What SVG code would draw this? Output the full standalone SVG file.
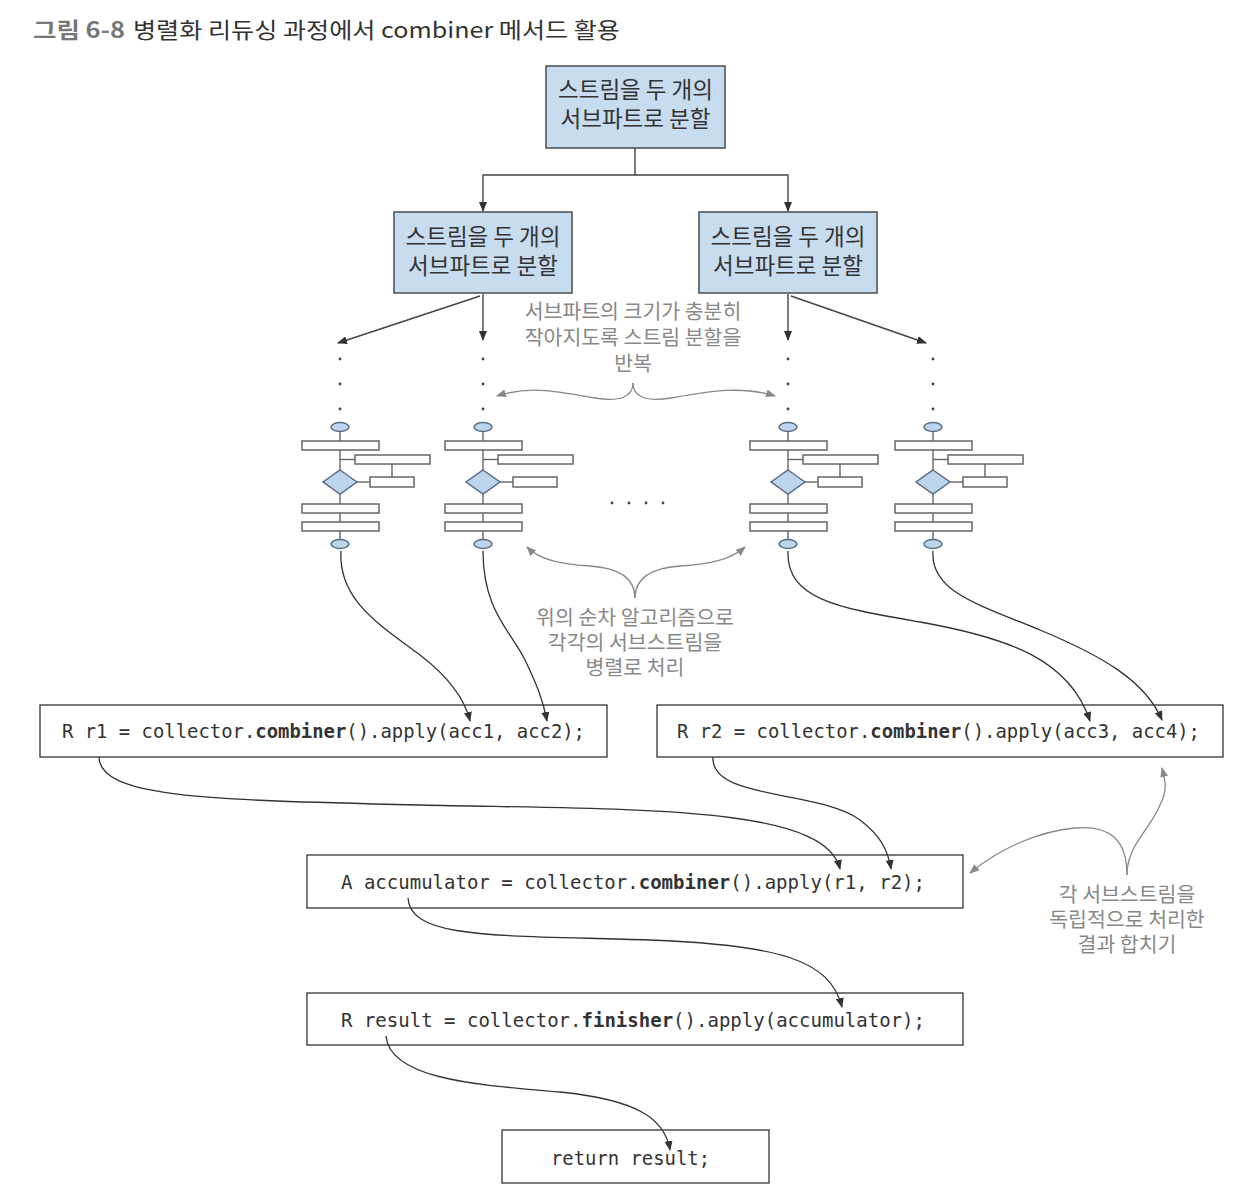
<svg xmlns="http://www.w3.org/2000/svg" width="1249" height="1198" viewBox="0 0 1249 1198">
<style>
.kr{font-family:"Noto Sans CJK KR","Noto Sans",sans-serif;}
.box{fill:#c8dcef;stroke:#555;stroke-width:1.6;}
.bt{font-size:22.5px;fill:#333;text-anchor:middle;}
.note{font-size:20.5px;fill:#888;text-anchor:middle;}
.code{font-family:"DejaVu Sans Mono","Liberation Mono",monospace;font-size:20px;fill:#333;}
.b{font-weight:bold;}
.cbox{fill:#fff;stroke:#333;stroke-width:1.3;}
.ln{fill:none;stroke:#444;stroke-width:1.4;}
.cv{fill:none;stroke:#333;stroke-width:1.3;}
.gv{fill:none;stroke:#888;stroke-width:1.3;}
.fr{fill:#fff;stroke:#666;stroke-width:1.5;}
.fb{fill:#bcd4ec;stroke:#5a6e84;stroke-width:1.5;}
.fl{stroke:#666;stroke-width:1.4;}
.dot{fill:#444;}
</style>
<defs>
<marker id="ah" markerWidth="10" markerHeight="8" refX="9" refY="4" orient="auto" markerUnits="userSpaceOnUse"><path d="M0,0 L10,4 L0,8 z" fill="#333"/></marker>
<marker id="ag" markerWidth="10" markerHeight="8" refX="9" refY="4" orient="auto" markerUnits="userSpaceOnUse"><path d="M0,0 L10,4 L0,8 z" fill="#888"/></marker>
<g id="flow">
<line class="fl" x1="0" y1="431" x2="0" y2="540"/>
<line class="fl" x1="0" y1="459.5" x2="15" y2="459.5"/>
<line class="fl" x1="17" y1="482" x2="30" y2="482"/>
<ellipse class="fb" cx="0" cy="427" rx="9" ry="4.5"/>
<rect class="fr" x="-38" y="441" width="77" height="9"/>
<rect class="fr" x="15" y="455" width="75" height="9"/>
<polygon class="fb" points="0,470 17,482 0,494 -17,482"/>
<rect class="fr" x="30" y="477" width="44" height="10"/>
<rect class="fr" x="-38" y="504" width="77" height="9"/>
<rect class="fr" x="-38" y="522" width="77" height="9"/>
<ellipse class="fb" cx="0" cy="544" rx="9" ry="4.5"/>
</g>
</defs>
<rect width="1249" height="1198" fill="#fff"/>

<text class="kr b" x="33" y="38" font-size="22" fill="#777" textLength="92" lengthAdjust="spacingAndGlyphs">그림 6-8</text>
<text class="kr" x="133" y="38" font-size="22" fill="#333" textLength="487" lengthAdjust="spacingAndGlyphs">병렬화 리듀싱 과정에서 combiner 메서드 활용</text>

<g id="split-top">
<rect class="box" x="546" y="66" width="179" height="82"/>
<text class="kr bt" x="635.5" y="98">스트림을 두 개의</text>
<text class="kr bt" x="635.5" y="127">서브파트로 분할</text>
</g>
<g id="split-left">
<rect class="box" x="394" y="212" width="178" height="81"/>
<text class="kr bt" x="483" y="245">스트림을 두 개의</text>
<text class="kr bt" x="483" y="274">서브파트로 분할</text>
</g>
<g id="split-right">
<rect class="box" x="699" y="212" width="178" height="81"/>
<text class="kr bt" x="788" y="245">스트림을 두 개의</text>
<text class="kr bt" x="788" y="274">서브파트로 분할</text>
</g>

<g id="dots">
<circle class="dot" cx="340" cy="359" r="1.4"/><circle class="dot" cx="340" cy="384" r="1.4"/><circle class="dot" cx="340" cy="409" r="1.4"/>
<circle class="dot" cx="483" cy="359" r="1.4"/><circle class="dot" cx="483" cy="384" r="1.4"/><circle class="dot" cx="483" cy="409" r="1.4"/>
<circle class="dot" cx="788" cy="359" r="1.4"/><circle class="dot" cx="788" cy="384" r="1.4"/><circle class="dot" cx="788" cy="409" r="1.4"/>
<circle class="dot" cx="933" cy="359" r="1.4"/><circle class="dot" cx="933" cy="384" r="1.4"/><circle class="dot" cx="933" cy="409" r="1.4"/>
<circle class="dot" cx="612" cy="503" r="1.4"/><circle class="dot" cx="629" cy="503" r="1.4"/><circle class="dot" cx="646" cy="503" r="1.4"/><circle class="dot" cx="663" cy="503" r="1.4"/>
</g>

<g id="seq1"><line class="fl" x1="392" y1="464" x2="392" y2="477"/><use href="#flow" x="340" y="0"/></g>
<g id="seq2"><use href="#flow" x="483" y="0"/></g>
<g id="seq3"><line class="fl" x1="840" y1="464" x2="840" y2="477"/><use href="#flow" x="788" y="0"/></g>
<g id="seq4"><line class="fl" x1="985" y1="464" x2="985" y2="477"/><use href="#flow" x="933" y="0"/></g>

<g id="note-repeat">
<text class="kr note" x="633" y="319">서브파트의 크기가 충분히</text>
<text class="kr note" x="633" y="345">작아지도록 스트림 분할을</text>
<text class="kr note" x="633" y="371">반복</text>
</g>
<g id="note-sequential">
<text class="kr note" x="635" y="625">위의 순차 알고리즘으로</text>
<text class="kr note" x="635" y="650">각각의 서브스트림을</text>
<text class="kr note" x="635" y="675">병렬로 처리</text>
</g>
<g id="note-merge">
<text class="kr note" x="1127" y="902">각 서브스트림을</text>
<text class="kr note" x="1127" y="927">독립적으로 처리한</text>
<text class="kr note" x="1127" y="952">결과 합치기</text>
</g>

<g id="code-r1">
<rect class="cbox" x="40" y="705" width="567" height="52"/>
<text class="code" x="62" y="738" textLength="193.3" lengthAdjust="spacingAndGlyphs">R r1 = collector.</text>
<text class="code b" x="255.3" y="738" textLength="91" lengthAdjust="spacingAndGlyphs">combiner</text>
<text class="code" x="346.3" y="738" textLength="238.7" lengthAdjust="spacingAndGlyphs">().apply(acc1, acc2);</text>
</g>
<g id="code-r2">
<rect class="cbox" x="657" y="705" width="566" height="52"/>
<text class="code" x="677" y="738" textLength="193.3" lengthAdjust="spacingAndGlyphs">R r2 = collector.</text>
<text class="code b" x="870.3" y="738" textLength="91" lengthAdjust="spacingAndGlyphs">combiner</text>
<text class="code" x="961.3" y="738" textLength="238.7" lengthAdjust="spacingAndGlyphs">().apply(acc3, acc4);</text>
</g>
<g id="code-accumulator">
<rect class="cbox" x="307" y="855" width="656" height="53"/>
<text class="code" x="341" y="889" textLength="297.7" lengthAdjust="spacingAndGlyphs">A accumulator = collector.</text>
<text class="code b" x="638.7" y="889" textLength="91.6" lengthAdjust="spacingAndGlyphs">combiner</text>
<text class="code" x="730.3" y="889" textLength="194.7" lengthAdjust="spacingAndGlyphs">().apply(r1, r2);</text>
</g>
<g id="code-result">
<rect class="cbox" x="307" y="993" width="656" height="52"/>
<text class="code" x="341" y="1027" textLength="240.5" lengthAdjust="spacingAndGlyphs">R result = collector.</text>
<text class="code b" x="581.5" y="1027" textLength="91.6" lengthAdjust="spacingAndGlyphs">finisher</text>
<text class="code" x="673.1" y="1027" textLength="251.9" lengthAdjust="spacingAndGlyphs">().apply(accumulator);</text>
</g>
<g id="code-return">
<rect class="cbox" x="502" y="1130" width="267" height="53"/>
<text class="code" x="551" y="1165" textLength="159" lengthAdjust="spacingAndGlyphs">return result;</text>
</g>

<g id="connectors">
<polyline class="ln" points="635,148 635,175 483,175 483,211" marker-end="url(#ah)"/>
<polyline class="ln" points="635,175 788,175 788,211" marker-end="url(#ah)"/>
<line class="ln" x1="483" y1="294" x2="483" y2="340" marker-end="url(#ah)"/>
<line class="ln" x1="480" y1="296" x2="338" y2="343" marker-end="url(#ah)"/>
<line class="ln" x1="788" y1="294" x2="788" y2="340" marker-end="url(#ah)"/>
<line class="ln" x1="791" y1="296" x2="926" y2="343" marker-end="url(#ah)"/>
<path class="cv" d="M341,551 C338,600 380,625 420,655 C450,678 465,700 470,721" marker-end="url(#ah)"/>
<path class="cv" d="M483,551 C483,610 510,630 525,660 C537,685 543,700 547,721" marker-end="url(#ah)"/>
<path class="cv" d="M788,551 C786,600 840,608 920,622 C1010,638 1070,660 1090,721" marker-end="url(#ah)"/>
<path class="cv" d="M933,551 C930,592 980,605 1040,630 C1100,655 1145,680 1162,720" marker-end="url(#ah)"/>
<path class="cv" d="M99,757 C100,797 200,800 420,805 C640,810 825,805 840,869" marker-end="url(#ah)"/>
<path class="cv" d="M713,757 C710,800 820,790 860,820 C880,835 888,850 891,869" marker-end="url(#ah)"/>
<path class="cv" d="M408,898 C410,940 500,935 650,940 C780,945 830,960 842,1007" marker-end="url(#ah)"/>
<path class="cv" d="M386,1036 C390,1080 480,1085 560,1092 C640,1100 665,1120 670,1150" marker-end="url(#ah)"/>
<path class="gv" d="M633,383 C633,397 620,402 595,398 C560,392 530,385 497,396" marker-end="url(#ag)"/>
<path class="gv" d="M633,383 C633,397 646,402 671,398 C706,392 740,385 775,396" marker-end="url(#ag)"/>
<path class="gv" d="M635,598 C635,578 620,568 590,566 C560,564 540,560 527,547" marker-end="url(#ag)"/>
<path class="gv" d="M635,598 C635,578 650,568 680,566 C710,564 730,560 745,547" marker-end="url(#ag)"/>
<path class="gv" d="M1127,875 C1127,840 1110,825 1075,828 C1040,831 1000,848 970,873" marker-end="url(#ag)"/>
<path class="gv" d="M1127,875 C1127,845 1150,830 1160,805 C1168,790 1165,780 1162,768" marker-end="url(#ag)"/>
</g>
</svg>
